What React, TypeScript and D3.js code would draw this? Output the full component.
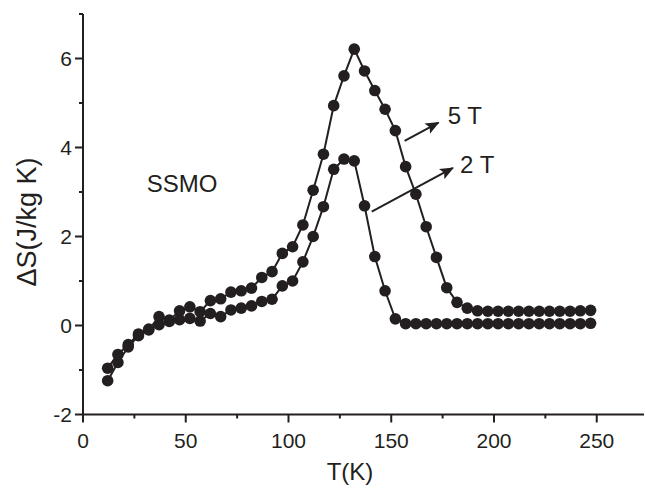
import React from "react";
import * as d3 from "d3";

// temperatures (K), one point every 5 K
const temps = [12, 17, 22, 27, 32, 37, 42, 47, 52, 57, 62, 67, 72, 77, 82, 87, 92, 97, 102, 107,
  112, 117, 122, 127, 132, 137, 142, 147, 152, 157, 162, 167, 172, 177, 182, 187, 192, 197, 202, 207,
  212, 217, 222, 227, 232, 237, 242, 247];

// ΔS in J/kg K
const s5T = [-1.24, -0.83, -0.48, -0.23, -0.1, 0.2, 0.12, 0.33, 0.42, 0.31, 0.56, 0.6, 0.75, 0.78, 0.84, 1.08, 1.21, 1.62, 1.77, 2.26,
  3.04, 3.85, 4.94, 5.61, 6.21, 5.72, 5.28, 4.86, 4.38, 3.57, 2.95, 2.22, 1.53, 0.85, 0.52, 0.39, 0.33, 0.32, 0.32, 0.32,
  0.32, 0.32, 0.32, 0.32, 0.32, 0.32, 0.33, 0.34];
const s2T = [-0.96, -0.65, -0.43, -0.19, -0.08, 0.02, 0.09, 0.13, 0.16, 0.1, 0.27, 0.2, 0.35, 0.39, 0.44, 0.54, 0.59, 0.89, 1.0, 1.43,
  2.0, 2.67, 3.51, 3.74, 3.7, 2.69, 1.55, 0.78, 0.15, 0.04, 0.04, 0.04, 0.04, 0.04, 0.04, 0.04, 0.04, 0.04, 0.04, 0.04,
  0.04, 0.04, 0.04, 0.04, 0.04, 0.04, 0.04, 0.05];

const xMajor = [0, 50, 100, 150, 200, 250];
const xMinor = [25, 75, 125, 175, 225];
const yMajor = [-2, 0, 2, 4, 6];
const yMinor = [-1, 1, 3, 5, 7];

// annotations in data units: [T, S]
const arrows = [
  { label: "5 T", from: [156.5, 4.15], to: [173, 4.56], text: [177.5, 4.53] },
  { label: "2 T", from: [140.5, 2.56], to: [180, 3.54], text: [183.5, 3.43] },
];
const sampleLabel = { label: "SSMO", at: [31, 3.0] };

const ink = "#231f20";
const font = "'Liberation Sans', Arial, Helvetica, sans-serif";

export default function App() {
  const x = d3.scaleLinear().domain([0, 273]).range([83, 644]);
  const y = d3.scaleLinear().domain([-2, 7]).range([414.5, 14]);

  const line = d3.line<number>().x((d, i) => x(temps[i])).y(d => y(d));
  const series = [s5T, s2T];

  return <svg width={645} height={488} style={{ position: "absolute", left: 0, top: 0, background: "#fff" }}>
    <defs>
      <marker id="head" viewBox="0 0 12 10" refX="11" refY="5" markerWidth="7" markerHeight="6" orient="auto" markerUnits="strokeWidth">
        <path d="M0,0 L12,5 L0,10 L2.5,5 z" fill={ink} />
      </marker>
    </defs>

    {/* axes */}
    <line x1={x(0)} x2={x(273)} y1={y(-2)} y2={y(-2)} stroke={ink} strokeWidth={2} />
    <line x1={x(0)} x2={x(0)} y1={y(-2)} y2={y(7)} stroke={ink} strokeWidth={2} />
    {xMajor.map(t => <g key={"xm" + t}>
      <line x1={x(t)} x2={x(t)} y1={y(-2)} y2={y(-2) + 8} stroke={ink} strokeWidth={2} />
      <text x={x(t)} y={448} textAnchor="middle" fontFamily={font} fontSize={21} fill={ink}>{t}</text>
    </g>)}
    {xMinor.map(t => <line key={"xn" + t} x1={x(t)} x2={x(t)} y1={y(-2)} y2={y(-2) + 4} stroke={ink} strokeWidth={2} />)}
    {yMajor.map(v => <g key={"ym" + v}>
      <line x1={x(0) - 8} x2={x(0)} y1={y(v)} y2={y(v)} stroke={ink} strokeWidth={2} />
      <text x={72} y={y(v)} dy="0.36em" textAnchor="end" fontFamily={font} fontSize={21} fill={ink}>{v}</text>
    </g>)}
    {yMinor.map(v => <line key={"yn" + v} x1={x(0) - 4} x2={x(0)} y1={y(v)} y2={y(v)} stroke={ink} strokeWidth={2} />)}

    <text x={350} y={480} textAnchor="middle" fontFamily={font} fontSize={24} fill={ink}>T(K)</text>
    <text transform={`translate(36,${222}) rotate(-90)`} textAnchor="middle" fontFamily={font} fontSize={27} fill={ink}>ΔS(J/kg K)</text>

    {/* data */}
    {series.map((s, k) => <g key={"s" + k}>
      <path d={line(s) || ""} fill="none" stroke={ink} strokeWidth={2} />
      {s.map((v, i) => <circle key={i} cx={x(temps[i])} cy={y(v)} r={5.8} fill={ink} />)}
    </g>)}

    {/* annotations */}
    {arrows.map(a => <g key={a.label}>
      <line x1={x(a.from[0])} y1={y(a.from[1])} x2={x(a.to[0])} y2={y(a.to[1])} stroke={ink} strokeWidth={2} markerEnd="url(#head)" />
      <text x={x(a.text[0])} y={y(a.text[1])} fontFamily={font} fontSize={24} fill={ink}>{a.label}</text>
    </g>)}
    <text x={x(sampleLabel.at[0])} y={y(sampleLabel.at[1])} fontFamily={font} fontSize={24} fill={ink}>{sampleLabel.label}</text>
  </svg>
}
